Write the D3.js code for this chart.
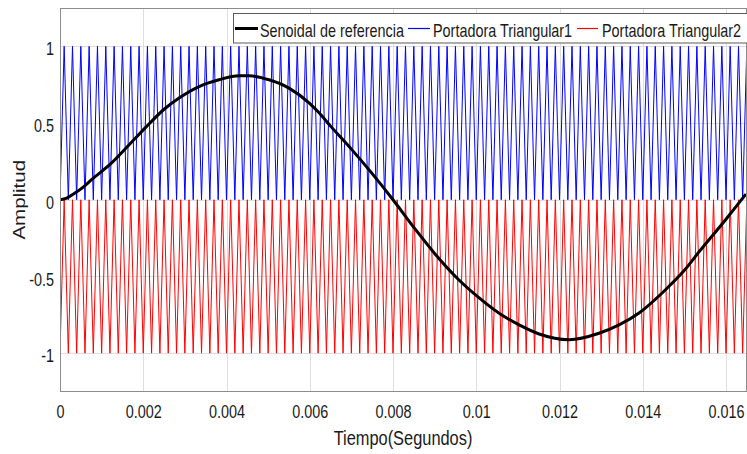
<!DOCTYPE html>
<html>
<head>
<meta charset="utf-8">
<script src="https://cdn.jsdelivr.net/npm/d3@7"></script>
<style>
  body { margin: 0; background: #fff; }
  svg { display: block; }
  text { font-family: "Liberation Sans", Arial, sans-serif; fill: #1a1a1a; }
</style>
</head>
<body>
<svg id="chart" width="747" height="454"></svg>
<script>
// Reference (modulating) signal: time in seconds, amplitude in p.u.
const refTime = [
  0, 0.00016, 0.00035, 0.00055, 0.00075, 0.00126, 0.00165, 0.00207, 0.0025,
  0.00287, 0.00334, 0.00382, 0.0043, 0.00454, 0.00502, 0.0055, 0.00599, 0.00623,
  0.0065, 0.007, 0.0075, 0.008, 0.0085, 0.009, 0.0095, 0.01007, 0.01055,
  0.01103, 0.01151, 0.01223, 0.01295, 0.01343, 0.01391, 0.01459, 0.015,
  0.01535, 0.01599, 0.01643, 0.01648
];
const refValue = [
  0, 0.011, 0.042, 0.081, 0.129, 0.245, 0.355, 0.475, 0.59,
  0.665, 0.738, 0.782, 0.808, 0.808, 0.782, 0.728, 0.63, 0.565,
  0.48, 0.33, 0.17, 0, -0.18, -0.35, -0.5, -0.64, -0.74,
  -0.816, -0.875, -0.912, -0.87, -0.816, -0.738, -0.575, -0.46,
  -0.34, -0.13, 0.02, 0.037
];

// Triangular carriers (phase disposition): period and level band of each
const carrierPeriod = 0.0002;
const carrierCycles = 83;
const carrier1Band = [0, 1];
const carrier2Band = [-1, 0];

// Axes
const xDomain = [0, 0.01648];
const yDomain = [-1.25, 1.25];
const xTickValues = [0, 0.002, 0.004, 0.006, 0.008, 0.01, 0.012, 0.014, 0.016];
const xTickLabels = ["0", "0.002", "0.004", "0.006", "0.008", "0.01", "0.012", "0.014", "0.016"];
const yTickValues = [1, 0.5, 0, -0.5, -1];
const yTickLabels = ["1", "0.5", "0", "-0.5", "-1"];

const legendLabels = ["Senoidal de referencia", "Portadora Triangular1", "Portadora Triangular2"];
const seriesColors = ["#000000", "#0000ff", "#ff0000"];

const svg = d3.select("#chart");
const plot = { left: 60, right: 746, top: 8, bottom: 391.5 };
const squeeze = 0.8; // narrow glyph rendering

const x = d3.scaleLinear().domain(xDomain).range([plot.left, plot.right]);
const y = d3.scaleLinear().domain(yDomain).range([plot.bottom, plot.top]);

svg.append("defs").append("clipPath").attr("id", "plot-clip")
  .append("rect")
  .attr("x", plot.left).attr("y", plot.top)
  .attr("width", plot.right - plot.left).attr("height", plot.bottom - plot.top);

// Grid
const grid = svg.append("g").attr("stroke", "#dedede").attr("stroke-width", 1);
grid.selectAll("line.vx").data(xTickValues).join("line")
  .attr("x1", d => Math.round(x(d)) + 0.5).attr("x2", d => Math.round(x(d)) + 0.5)
  .attr("y1", plot.top).attr("y2", plot.bottom);
grid.selectAll("line.hy").data(yTickValues).join("line")
  .attr("y1", d => Math.round(y(d)) + 0.5).attr("y2", d => Math.round(y(d)) + 0.5)
  .attr("x1", plot.left).attr("x2", plot.right);

// Carrier waveforms: one vertex at each half period
function carrierPoints(band) {
  const pts = [];
  for (let k = 0; k <= carrierCycles * 2; k++) {
    pts.push([k * carrierPeriod / 2, k % 2 === 0 ? band[0] : band[1]]);
  }
  return pts;
}
const straight = d3.line().x(d => x(d[0])).y(d => y(d[1]));
const marks = svg.append("g").attr("clip-path", "url(#plot-clip)");
marks.append("path")
  .attr("d", straight(carrierPoints(carrier1Band)))
  .attr("fill", "none").attr("stroke", seriesColors[1]).attr("stroke-width", 1);
marks.append("path")
  .attr("d", straight(carrierPoints(carrier2Band)))
  .attr("fill", "none").attr("stroke", seriesColors[2]).attr("stroke-width", 1);

// Reference sine
const refLine = d3.line()
  .x((d, i) => x(refTime[i]))
  .y(d => y(d))
  .curve(d3.curveMonotoneX);
marks.append("path")
  .attr("d", refLine(refValue))
  .attr("fill", "none").attr("stroke", seriesColors[0])
  .attr("stroke-width", 3).attr("stroke-linejoin", "round");

// Axes box
svg.append("rect")
  .attr("x", plot.left + 0.5).attr("y", plot.top + 0.5)
  .attr("width", plot.right - plot.left).attr("height", plot.bottom - plot.top - 0.5)
  .attr("fill", "none").attr("stroke", "#8c8c8c").attr("stroke-width", 1);

// X tick labels
const xAxis = d3.axisBottom(x).tickValues(xTickValues)
  .tickFormat((d, i) => xTickLabels[i]).tickSize(0);
const gx = svg.append("g").attr("transform", `translate(0,${plot.bottom})`).call(xAxis);
gx.select(".domain").remove();
gx.selectAll("text")
  .attr("y", 26.5).attr("dy", null)
  .attr("transform", `scale(${squeeze},1)`)
  .style("font-size", "18px").style("font-family", '"Liberation Sans", Arial, sans-serif')
  .attr("fill", "#1a1a1a");

// Y tick labels
const yAxis = d3.axisLeft(y).tickValues(yTickValues)
  .tickFormat((d, i) => yTickLabels[i]).tickSize(0);
const gy = svg.append("g").attr("transform", `translate(${plot.left},0)`).call(yAxis);
gy.select(".domain").remove();
gy.selectAll("text")
  .attr("x", -6 / squeeze).attr("dy", "0.48em")
  .attr("transform", `scale(${squeeze},1)`)
  .style("font-size", "18px").style("font-family", '"Liberation Sans", Arial, sans-serif')
  .attr("fill", "#1a1a1a");

// Axis titles
svg.append("text")
  .attr("transform", `translate(${(plot.left + plot.right) / 2},445) scale(${squeeze},1)`)
  .attr("text-anchor", "middle").style("font-size", "20.5px")
  .text("Tiempo(Segundos)");
svg.append("text")
  .attr("transform", `translate(25,${(plot.top + plot.bottom) / 2}) scale(${squeeze},1) rotate(-90)`)
  .attr("text-anchor", "middle").style("font-size", "20.5px")
  .text("Amplitud");

// Legend
const legend = svg.append("g");
legend.append("rect")
  .attr("x", 233.5).attr("y", 13.5).attr("width", 530).attr("height", 29.5)
  .attr("fill", "#fff").attr("stroke", "#5a5a5a").attr("stroke-width", 1);
const legendItems = [
  { x0: 235, x1: 258, tx: 260, w: 3 },
  { x0: 408, x1: 430, tx: 433, w: 1.2 },
  { x0: 577, x1: 598, tx: 602, w: 1.2 }
];
legendItems.forEach((it, i) => {
  legend.append("line")
    .attr("x1", it.x0).attr("x2", it.x1).attr("y1", 28.5).attr("y2", 28.5)
    .attr("stroke", seriesColors[i]).attr("stroke-width", it.w);
  legend.append("text")
    .attr("transform", `translate(${it.tx},37) scale(${squeeze},1)`)
    .style("font-size", "18px")
    .text(legendLabels[i]);
});
</script>
</body>
</html>
